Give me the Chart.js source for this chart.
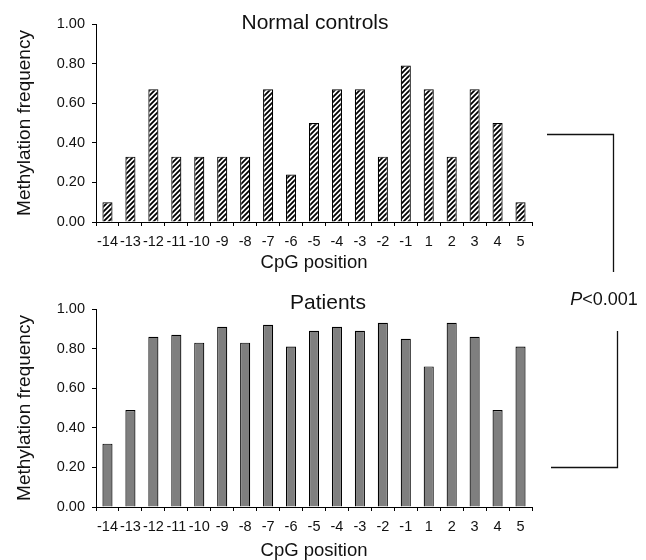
<!DOCTYPE html>
<html><head><meta charset="utf-8">
<script src="https://cdn.jsdelivr.net/npm/chart.js@4/dist/chart.umd.min.js"></script>
<style>
html,body{margin:0;padding:0;background:#fff}
body{width:646px;height:560px;position:relative;overflow:hidden;font-family:'Liberation Sans',Arial,sans-serif;color:#111}
.c{position:absolute;left:0;width:646px;height:280px}
.t{position:absolute;white-space:nowrap;transform:translate(-50%,-50%);line-height:1}
svg{position:absolute;left:0;top:0}
</style></head><body>
<div class="c" style="top:0"><canvas id="c1" width="646" height="280"></canvas></div>
<div class="c" style="top:280px"><canvas id="c2" width="646" height="280"></canvas></div>
<div class="t" style="left:315px;top:21px;font-size:21px">Normal controls</div>
<div class="t" style="left:328px;top:301px;font-size:21px">Patients</div>
<div class="t" style="left:604px;top:299px;font-size:18px"><i>P</i>&lt;0.001</div>
<svg width="646" height="560">
<polyline points="547,134.5 613.5,134.5 613.5,272" fill="none" stroke="#111" stroke-width="1.3"/>
<polyline points="617.5,331 617.5,467.5 551,467.5" fill="none" stroke="#111" stroke-width="1.3"/>
</svg>
<script>
const positions = ['-14','-13','-12','-11','-10','-9','-8','-7','-6','-5','-4','-3','-2','-1','1','2','3','4','5'];
const controls = [0.10,0.33,0.67,0.33,0.33,0.33,0.33,0.67,0.24,0.50,0.67,0.67,0.33,0.79,0.67,0.33,0.67,0.50,0.10];
const patients = [0.32,0.49,0.86,0.87,0.83,0.91,0.83,0.92,0.81,0.89,0.91,0.89,0.93,0.85,0.71,0.93,0.86,0.49,0.81];
const yTicks = [0,0.2,0.4,0.6,0.8,1.0];

function hatch(){
  const s=5, p=document.createElement('canvas'); p.width=s; p.height=s;
  const g=p.getContext('2d');
  g.fillStyle='#fff'; g.fillRect(0,0,s,s);
  g.strokeStyle='#000'; g.lineWidth=1.8;
  g.beginPath();
  g.moveTo(-1,s+1); g.lineTo(s+1,-1);
  g.moveTo(-1,1); g.lineTo(1,-1);
  g.moveTo(s-1,s+1); g.lineTo(s+1,s-1);
  g.stroke();
  return document.getElementById('c1').getContext('2d').createPattern(p,'repeat');
}

const FONT='Liberation Sans, Arial, sans-serif';
function makeChart(id, data, fill, padTop, padBottom, xH){
  return new Chart(document.getElementById(id), {
    type:'bar',
    data:{labels:positions, datasets:[{data:data, backgroundColor:fill, borderColor:'#000', borderWidth:1.2, categoryPercentage:1, barPercentage:0.44}]},
    options:{
      responsive:false, animation:false,
      layout:{padding:{left:0,right:114,top:padTop,bottom:padBottom}},
      plugins:{legend:{display:false},tooltip:{enabled:false},title:{display:false}},
      scales:{
        x:{
          grid:{display:true,drawOnChartArea:false,offset:true,color:'#000',tickLength:4,tickColor:'#000'},
          border:{display:true,color:'#000',width:1},
          ticks:{color:'#111',font:{family:FONT,size:14.5},padding:7,maxRotation:0,autoSkip:false},
          title:{display:true,text:'CpG position',color:'#111',font:{family:FONT,size:18.5,lineHeight:1},padding:0},
          afterFit(s){ s.height = xH; }
        },
        y:{
          min:0,max:1,
          afterBuildTicks(s){ s.ticks = yTicks.map(v=>({value:v})); },
          grid:{display:true,drawOnChartArea:false,color:'#000',tickLength:4,tickColor:'#000'},
          border:{display:true,color:'#000',width:1},
          ticks:{color:'#111',font:{family:FONT,size:14.5},padding:7,callback:v=>Number(v).toFixed(2)},
          title:{display:true,text:'Methylation frequency',color:'#111',font:{family:FONT,size:19,lineHeight:1},padding:{top:15,bottom:0}},
          afterFit(s){ s.width = 96; }
        }
      }
    }
  });
}
makeChart('c1', controls, hatch(), 24, 8, 50);
makeChart('c2', patients, '#7f7f7f', 29, 0, 53);
</script>
</body></html>
